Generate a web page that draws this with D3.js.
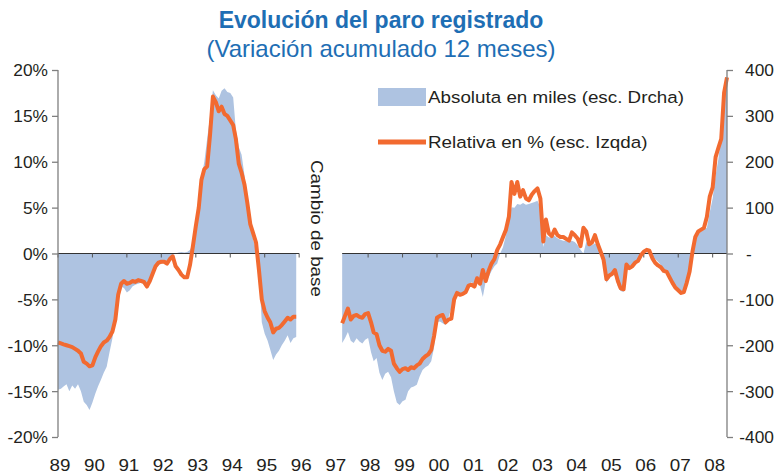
<!DOCTYPE html>
<html>
<head>
<meta charset="utf-8">
<script src="https://cdn.jsdelivr.net/npm/d3@7"></script>
<style>
  body { margin: 0; background: #fff; }
  text { font-family: "Liberation Sans", Arial, sans-serif; }
</style>
</head>
<body>
<div id="chart"></div>
<script>
// Paro registrado, variación acumulada 12 meses (mensual)
// tramo 1: ene-1989 .. dic-1995, tramo 2: abr-1997 .. jun-2008
var start1 = "1989-01";
var start2 = "1997-04";

// relativa en % (esc. izquierda)
var pct1 = [-9.7, -9.8, -9.9, -10.0, -10.1, -10.2, -10.4, -10.6, -10.9, -11.8, -12.0, -12.3,
	-12.2, -11.3, -10.7, -10.1, -9.7, -9.5, -9.1, -8.5, -7.2, -4.5, -3.3, -3.0,
	-3.3, -3.2, -3.0, -3.1, -2.9, -3.0, -3.1, -3.6, -3.0, -2.2, -1.4, -1.0,
	-0.9, -0.9, -1.1, -0.6, -0.3, -1.4, -1.8, -2.3, -2.6, -2.6, -1.2, 0.8,
	3.0, 5.0, 8.0, 9.2, 9.5, 13.0, 17.1, 16.5, 15.5, 16.0, 15.2, 15.0,
	14.5, 14.0, 12.5, 9.8, 8.8, 7.5, 5.5, 3.2, 2.2, 1.2, -1.8, -5.0,
	-6.3, -7.0, -7.5, -8.6, -8.2, -8.1, -7.8, -7.4, -7.0, -7.2, -6.9, -6.9];

var pct2 = [-7.6, -6.8, -6.0, -7.2, -6.8, -6.7, -6.9, -7.0, -6.6,
	-6.5, -7.5, -8.6, -8.8, -10.0, -10.6, -10.7, -10.4, -10.6, -12.0, -12.5, -12.9,
	-12.6, -12.5, -12.7, -12.4, -12.5, -12.2, -12.0, -11.5, -11.2, -11.0, -10.5, -9.0,
	-7.0, -6.8, -6.7, -7.5, -7.2, -7.1, -5.0, -4.3, -4.5, -4.4, -4.2, -3.5,
	-3.4, -3.6, -2.7, -3.3, -1.8, -3.0, -1.9, -1.1, -0.6, 0.4, 1.0, 1.8,
	2.6, 4.0, 7.8, 6.5, 7.8, 6.2, 6.9, 6.0, 5.8, 6.4, 6.8, 7.1,
	6.0, 1.3, 3.7, 2.2, 1.9, 2.6, 2.0, 1.8, 1.8, 1.6, 1.4, 2.3,
	2.0, 1.6, 0.8, 2.8, 2.4, 1.0, 1.2, 2.0, 1.0, 0.2, -0.7, -2.8,
	-2.4, -2.2, -1.8, -3.0, -3.8, -3.9, -1.2, -1.6, -1.4, -1.0, -0.8, -0.2,
	0.2, 0.4, 0.3, -0.5, -1.0, -1.3, -1.5, -1.9, -2.0, -2.6, -3.2, -3.7,
	-4.0, -4.3, -4.2, -3.2, -2.0, 0.2, 1.8, 2.4, 2.6, 2.8, 4.0, 6.2,
	7.2, 10.5, 11.5, 12.5, 17.5, 19.2];

// absoluta en miles (esc. derecha)
var abs1 = [-297, -295, -290, -285, -300, -288, -295, -285, -300, -323, -330, -341,
	-325, -305, -290, -275, -260, -247, -215, -185, -140, -100, -72, -75,
	-85, -80, -72, -68, -66, -64, -68, -76, -60, -42, -34, -26,
	-22, -20, -15, -8, -3, 0, 2, 3, 2, 3, 8, 20,
	45, 95, 165, 200, 250, 300, 356, 345, 338, 355, 360, 352,
	350, 340, 270, 232, 215, 170, 110, 65, 30, 8, -40, -150,
	-175, -190, -210, -232, -220, -212, -200, -190, -178, -195, -185, -182];

var abs2 = [-195, -185, -171, -190, -195, -185, -192, -196, -188,
	-184, -215, -235, -228, -260, -276, -262, -258, -270, -300, -325, -330,
	-322, -319, -300, -292, -290, -286, -268, -254, -248, -244, -235, -205,
	-150, -148, -152, -156, -140, -120, -95, -92, -88, -86, -80, -72,
	-62, -70, -51, -70, -95, -60, -52, -38, -28, -22, 0, 14,
	40, 70, 101, 100, 108, 106, 110, 106, 108, 110, 112, 115,
	100, 14, 40, 35, 36, 38, 33, 30, 28, 27, 25, 28,
	25, 18, 8, 0, 25, 20, 18, 22, 18, 2, -30, -64,
	-55, -43, -50, -72, -82, -84, -30, -28, -25, -24, -18, -8,
	-2, 2, 2, -6, -12, -18, -25, -35, -43, -52, -60, -68,
	-75, -85, -87, -60, -30, 5, 25, 42, 48, 52, 56, 90,
	120, 170, 205, 260, 350, 385];

var yearLabels = ["89", "90", "91", "92", "93", "94", "95", "96", "97", "98",
	"99", "00", "01", "02", "03", "04", "05", "06", "07", "08"];
var pctTicks = [20, 15, 10, 5, 0, -5, -10, -15, -20];
var absTicks = [400, 300, 200, 100, 0, -100, -200, -300, -400];

var legendLabels = ["Absoluta en miles (esc. Drcha)", "Relativa en % (esc. Izqda)"];

// labels in the original are a bit wider than Arial
function stretch(sx) {
	return function (sel) {
		sel.each(function () {
			var t = d3.select(this);
			var tx = +t.attr("x") || 0, ty = +t.attr("y") || 0;
			t.attr("x", 0).attr("y", 0)
				.attr("transform", "translate(" + tx + "," + ty + ") scale(" + sx + ",1)");
		});
	};
}

function drawChart(code) {
	var width = 778, height = 475;
	var blue = "#aec3e1", orange = "#f26a30", titleBlue = "#1e6eb4";
	var axisGray = "#7f7f7f", textColor = "#231f20";

	var svg = d3.select(code)
		.append("svg")
		.attr("width", width)
		.attr("height", height);

	var parseMonth = d3.timeParse("%Y-%m");

	function monthly(startStr, values) {
		var s = parseMonth(startStr);
		return values.map(function (v, i) {
			return { date: d3.timeMonth.offset(s, i), v: v };
		});
	}

	var seg = [
		{ pct: monthly(start1, pct1), abs: monthly(start1, abs1) },
		{ pct: monthly(start2, pct2), abs: monthly(start2, abs2) }
	];

	var x = d3.scaleTime()
		.domain([new Date(1989, 0, 1), new Date(2008, 5, 1)])
		.range([58, 727]);
	var yL = d3.scaleLinear().domain([-20, 20]).range([437, 70]);
	var yR = d3.scaleLinear().domain([-400, 400]).range([437, 70]);

	// title
	svg.append("text")
		.attr("x", 381).attr("y", 28)
		.attr("text-anchor", "middle")
		.style("font-size", "23px").style("font-weight", "bold")
		.style("fill", titleBlue)
		.text("Evolución del paro registrado");
	svg.append("text")
		.attr("x", 381).attr("y", 57)
		.attr("text-anchor", "middle")
		.style("font-size", "24px")
		.style("fill", titleBlue)
		.text("(Variación acumulado 12 meses)");

	var area = d3.area()
		.x(function (d) { return x(d.date); })
		.y0(yR(0))
		.y1(function (d) { return yR(d.v); });
	var line = d3.line()
		.x(function (d) { return x(d.date); })
		.y(function (d) { return yL(d.v); });

	seg.forEach(function (s) {
		svg.append("path")
			.datum(s.abs)
			.attr("d", area)
			.style("fill", blue);
	});

	// zero line with yearly ticks, broken at the base change
	var breaks = [[new Date(1989, 0, 1), new Date(1996, 0, 1)], [new Date(1997, 3, 1), new Date(2008, 5, 1)]];
	breaks.forEach(function (b) {
		svg.append("line")
			.attr("x1", x(b[0])).attr("x2", x(b[1]))
			.attr("y1", yL(0)).attr("y2", yL(0))
			.style("stroke", "#333").style("stroke-width", 1.2);
	});
	var years = yearLabels.map(function (l, i) { return new Date(1989 + i, 0, 1); });
	svg.append("g")
		.selectAll("line")
		.data(years.filter(function (d) { return d.getFullYear() !== 1997; }))
		.enter()
		.append("line")
		.attr("x1", function (d) { return x(d); })
		.attr("x2", function (d) { return x(d); })
		.attr("y1", yL(0)).attr("y2", yL(0) + 4)
		.style("stroke", "#555").style("stroke-width", 1);

	seg.forEach(function (s) {
		svg.append("path")
			.datum(s.pct)
			.attr("d", line)
			.style("fill", "none")
			.style("stroke", orange)
			.style("stroke-width", 4)
			.style("stroke-linejoin", "round");
	});

	// left axis
	var gl = svg.append("g").attr("transform", "translate(58,0)")
		.call(d3.axisLeft(yL).tickValues(pctTicks).tickSize(6).tickPadding(4)
			.tickFormat(function (d) { return d + "%"; }));
	// right axis (numbers right-aligned, zero shown as a dash)
	var gr = svg.append("g").attr("transform", "translate(727,0)")
		.call(d3.axisRight(yR).tickValues(absTicks).tickSize(6).tickPadding(9)
			.tickFormat(function (d) { return d === 0 ? "-" : d; }));
	gr.selectAll(".tick text")
		.attr("text-anchor", function (d) { return d === 0 ? "start" : "end"; })
		.attr("x", function (d) { return d === 0 ? 19 : 47; });
	[gl, gr].forEach(function (g) {
		g.select(".domain").attr("d", "M0,70V437")
			.style("stroke", axisGray).style("stroke-width", 1.3);
		g.selectAll(".tick line").style("stroke", axisGray).style("stroke-width", 1.3);
		g.selectAll(".tick text")
			.style("font-size", "16.5px")
			.style("font-family", "Liberation Sans, Arial, sans-serif")
			.style("fill", textColor)
			.attr("dy", "0.36em")
			.call(stretch(1.05));
	});

	// year labels
	svg.append("g")
		.selectAll("text")
		.data(years)
		.enter()
		.append("text")
		.attr("x", function (d) { return x(d) + 2; })
		.attr("y", 471)
		.attr("text-anchor", "middle")
		.style("font-size", "16.5px")
		.style("fill", textColor)
		.text(function (d, i) { return yearLabels[i]; })
		.call(stretch(1.14));

	// base change note
	svg.append("text")
		.attr("transform", "translate(311,160) rotate(90) scale(1.14,1)")
		.style("font-size", "16.5px")
		.style("fill", textColor)
		.text("Cambio de base");

	// legend
	var lg = svg.append("g");
	lg.append("rect")
		.attr("x", 378).attr("y", 88).attr("width", 48).attr("height", 18)
		.style("fill", blue);
	lg.append("line")
		.attr("x1", 378).attr("x2", 426).attr("y1", 142).attr("y2", 142)
		.style("stroke", orange).style("stroke-width", 5);
	lg.selectAll("text")
		.data(legendLabels)
		.enter()
		.append("text")
		.attr("x", 428)
		.attr("y", function (d, i) { return 103 + i * 45; })
		.style("font-size", "16.5px")
		.style("fill", textColor)
		.text(function (d) { return d; })
		.call(stretch(1.14));
}

drawChart("#chart");
</script>
</body>
</html>
